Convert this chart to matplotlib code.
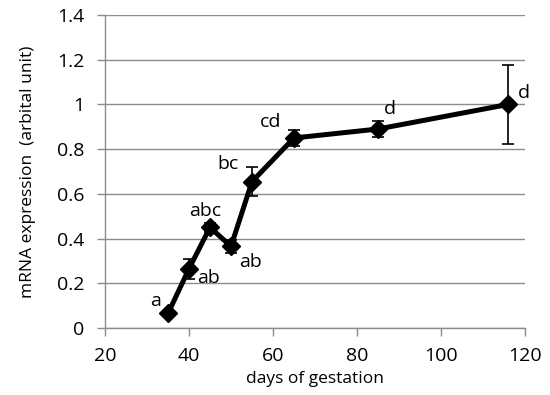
import matplotlib
matplotlib.use("Agg")
from matplotlib import pyplot as plt

# Data
days = [35, 40, 45, 50, 55, 65, 85, 116]
expression = [0.065, 0.265, 0.45, 0.365, 0.655, 0.85, 0.89, 1.0]
errors = [0.01, 0.045, 0.02, 0.03, 0.063, 0.036, 0.034, 0.175]
letters = ["a", "ab", "abc", "ab", "bc", "cd", "d", "d"]
# label offsets in points (dx, dy) for each letter
offsets = [(-9, 9), (14, -6.5), (-3.5, 12), (14, -11.5),
           (-17, 13), (-16.5, 11.5), (8.5, 14.5), (11, 8.5)]

plt.rcParams["font.family"] = ["Open Sans", "DejaVu Sans"]

fig = plt.figure(figsize=(5.5, 3.95), dpi=100)
ax = fig.add_axes([105 / 550, 67 / 395, 420 / 550, 313 / 395])

ax.errorbar(days, expression, yerr=errors, color="black", lw=3.6,
            marker="D", markersize=9, ecolor="black", elinewidth=1.2,
            capsize=4, capthick=1.2, zorder=3)

for x, y, lab, (dx, dy) in zip(days, expression, letters, offsets):
    ax.annotate(lab, (x, y), xytext=(dx, dy), textcoords="offset points",
                ha="center", va="center", fontsize=14)

ax.set_xlim(20, 120)
ax.set_ylim(0, 1.4)
ax.set_xticks(range(20, 121, 20))
ax.set_yticks([0, 0.2, 0.4, 0.6, 0.8, 1.0, 1.2, 1.4])
ax.set_yticklabels(["0", "0.2", "0.4", "0.6", "0.8", "1", "1.2", "1.4"])
ax.grid(axis="y", color="#8c8c8c", lw=1)
ax.set_axisbelow(True)

for side in ("top", "right"):
    ax.spines[side].set_visible(False)
for side in ("left", "bottom"):
    ax.spines[side].set_color("#8c8c8c")
    ax.spines[side].set_linewidth(1)
ax.tick_params(axis="both", colors="#8c8c8c", labelcolor="black",
               labelsize=14, length=5.5, width=1)
ax.tick_params(axis="x", pad=8.5)
ax.tick_params(axis="y", pad=9.5)

ax.set_xlabel("days of gestation", fontsize=12.5, labelpad=4)
ax.set_ylabel("mRNA expression  (arbital unit)", fontsize=12.5, labelpad=15)

fig.savefig("out.png", dpi=100)
